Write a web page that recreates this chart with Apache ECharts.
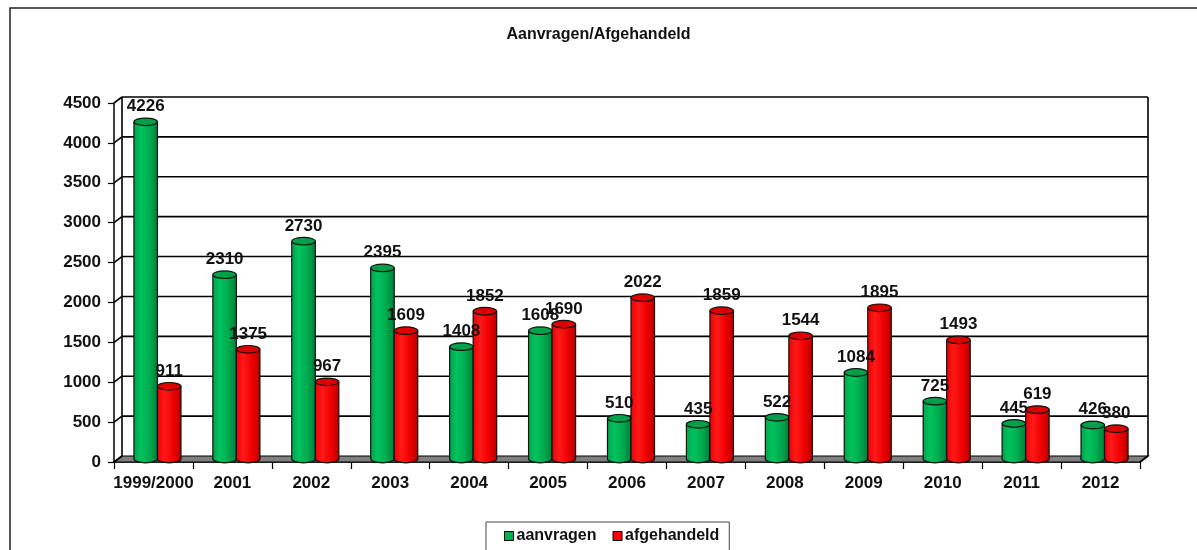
<!DOCTYPE html>
<html lang="nl">
<head>
    <meta charset="UTF-8">
    <title>Aanvragen/Afgehandeld</title>
    <script src="https://cdn.jsdelivr.net/npm/echarts@6/dist/echarts.min.js"></script>
    <style>
        html, body { margin: 0; padding: 0; background: #fff; }
    </style>
</head>
<body>
    <div id="main" style="width: 1197px;height:550px;"></div>
    <script type="text/javascript">
        // data
        var categories = ['1999/2000', '2001', '2002', '2003', '2004', '2005', '2006',
            '2007', '2008', '2009', '2010', '2011', '2012'];
        var aanvragen = [4226, 2310, 2730, 2395, 1408, 1608, 510, 435, 522, 1084, 725, 445, 426];
        var afgehandeld = [911, 1375, 967, 1609, 1852, 1690, 2022, 1859, 1544, 1895, 1493, 619, 380];
        var yTicks = [0, 500, 1000, 1500, 2000, 2500, 3000, 3500, 4000, 4500];

        var FONT = '"Liberation Sans", Arial, sans-serif';
        // 3D depth offset (back wall relative to front)
        var DX = 8, DY = -6;

        var myChart = echarts.init(document.getElementById('main'));

        // walls, floor and gridlines of the 3D box
        function renderFrame(params, api) {
            var band = api.size([1, 0])[0];
            var p0 = api.coord([0, 0]);
            var pN = api.coord([categories.length - 1, 0]);
            var xL = p0[0] - band / 2, xR = pN[0] + band / 2, y0 = p0[1];
            var yTop = api.coord([0, yTicks[yTicks.length - 1]])[1];
            var children = [];
            var line = { stroke: '#000', lineWidth: 1.6 };
            // floor
            children.push({
                type: 'polygon',
                shape: { points: [[xL, y0], [xR, y0], [xR + DX, y0 + DY], [xL + DX, y0 + DY]] },
                style: { fill: '#808080', stroke: '#000', lineWidth: 1.2 }
            });
            yTicks.forEach(function (t) {
                var y = api.coord([0, t])[1];
                if (t > 0) {
                    children.push({ type: 'line', shape: { x1: xL + DX, y1: y + DY, x2: xR + DX, y2: y + DY }, style: line });
                }
                children.push({ type: 'line', shape: { x1: xL, y1: y, x2: xL + DX, y2: y + DY }, style: line });
            });
            // back wall verticals
            children.push({ type: 'line', shape: { x1: xL + DX, y1: yTop + DY, x2: xL + DX, y2: y0 + DY }, style: line });
            children.push({ type: 'line', shape: { x1: xR + DX, y1: yTop + DY, x2: xR + DX, y2: y0 + DY }, style: line });
            children.push({ type: 'line', shape: { x1: xR, y1: y0, x2: xR + DX, y2: y0 + DY }, style: line });
            return { type: 'group', children: children };
        }

        function cylinder(side, stops, topColor) {
            return function (params, api) {
                var cat = api.value(0), v = api.value(1);
                var base = api.coord([cat, 0]);
                var top = api.coord([cat, v]);
                var band = api.size([1, 0])[0];
                var w = band * 0.298;
                var cx = base[0] + DX / 2 + (side === 0 ? -w / 2 : w / 2);
                var yb = base[1] + DY / 2, yt = top[1] + DY / 2;
                var rx = w / 2, ry = 3.8;
                var grad = new echarts.graphic.LinearGradient(0, 0, 1, 0, stops);
                var edge = { stroke: '#111', lineWidth: 1.2 };
                return {
                    type: 'group',
                    children: [
                        { type: 'ellipse', shape: { cx: cx, cy: yb, rx: rx, ry: ry }, style: { fill: grad, stroke: '#111', lineWidth: 1.2 } },
                        { type: 'rect', shape: { x: cx - rx, y: yt, width: w, height: yb - yt }, style: { fill: grad } },
                        { type: 'line', shape: { x1: cx - rx, y1: yt, x2: cx - rx, y2: yb }, style: edge },
                        { type: 'line', shape: { x1: cx + rx, y1: yt, x2: cx + rx, y2: yb }, style: edge },
                        { type: 'ellipse', shape: { cx: cx, cy: yt, rx: rx, ry: ry }, style: { fill: topColor, stroke: '#111', lineWidth: 1.2 } },
                        {
                            type: 'text',
                            z2: 100,
                            style: {
                                x: cx, y: yt - ry - 3, text: String(v),
                                align: 'center', verticalAlign: 'bottom',
                                font: 'bold 17px ' + FONT, fill: '#111'
                            }
                        }
                    ]
                };
            };
        }

        function pairs(values) {
            return values.map(function (v, i) { return [i, v]; });
        }

        option = {
            animation: false,
            backgroundColor: '#fff',
            textStyle: { fontFamily: FONT },
            graphic: [{
                type: 'rect',
                shape: { x: 10, y: 8, width: 1200, height: 560 },
                style: { fill: 'none', stroke: '#222', lineWidth: 1.5 },
                silent: true
            }],
            title: {
                text: 'Aanvragen/Afgehandeld',
                left: 'center',
                top: 22,
                textStyle: { fontSize: 16, fontWeight: 'bold', color: '#111', fontFamily: FONT }
            },
            legend: {
                top: 522,
                left: 486,
                data: ['aanvragen', 'afgehandeld'],
                icon: 'rect',
                itemWidth: 9,
                itemHeight: 9,
                itemGap: 16,
                borderColor: '#444',
                borderWidth: 1,
                padding: [6, 10, 10, 18],
                itemStyle: { borderColor: '#000', borderWidth: 1 },
                textStyle: { fontSize: 16, fontWeight: 'bold', color: '#111', fontFamily: FONT, padding: [0, 0, 0, -2] }
            },
            grid: {
                left: 114,
                right: 57,
                top: 103,
                bottom: 88
            },
            xAxis: {
                type: 'category',
                data: categories,
                axisLine: { lineStyle: { color: '#000', width: 1.5 } },
                axisTick: { show: true, length: 7, lineStyle: { color: '#000', width: 1.2 } },
                axisLabel: { interval: 0, fontSize: 17, fontWeight: 'bold', color: '#111', margin: 13, fontFamily: FONT },
                splitLine: { show: false }
            },
            yAxis: {
                type: 'value',
                min: 0,
                max: 4500,
                interval: 500,
                axisLine: { show: true, lineStyle: { color: '#000', width: 1.5 } },
                axisTick: { show: true, length: 6, lineStyle: { color: '#000', width: 1.2 } },
                axisLabel: {
                    fontSize: 17, fontWeight: 'bold', color: '#111', margin: 13, fontFamily: FONT,
                    formatter: function (v) { return String(v); }
                },
                splitLine: { show: false }
            },
            series: [
                {
                    name: 'frame',
                    type: 'custom',
                    silent: true,
                    z: 1,
                    renderItem: renderFrame,
                    encode: { x: 0, y: 1 },
                    data: [[0, 0]]
                },
                {
                    name: 'aanvragen',
                    type: 'custom',
                    z: 3,
                    itemStyle: { color: '#00b050' },
                    renderItem: cylinder(0, [
                        { offset: 0, color: '#00a54c' },
                        { offset: 0.3, color: '#00c35c' },
                        { offset: 0.65, color: '#00ab4f' },
                        { offset: 1, color: '#00803a' }
                    ], '#00a048'),
                    encode: { x: 0, y: 1 },
                    data: pairs(aanvragen)
                },
                {
                    name: 'afgehandeld',
                    type: 'custom',
                    z: 3,
                    itemStyle: { color: '#ff0000' },
                    renderItem: cylinder(1, [
                        { offset: 0, color: '#ee0000' },
                        { offset: 0.3, color: '#ff1a1a' },
                        { offset: 0.65, color: '#f00000' },
                        { offset: 1, color: '#b80000' }
                    ], '#dd0000'),
                    encode: { x: 0, y: 1 },
                    data: pairs(afgehandeld)
                }
            ]
        };

        myChart.setOption(option);
    </script>
</body>
</html>
